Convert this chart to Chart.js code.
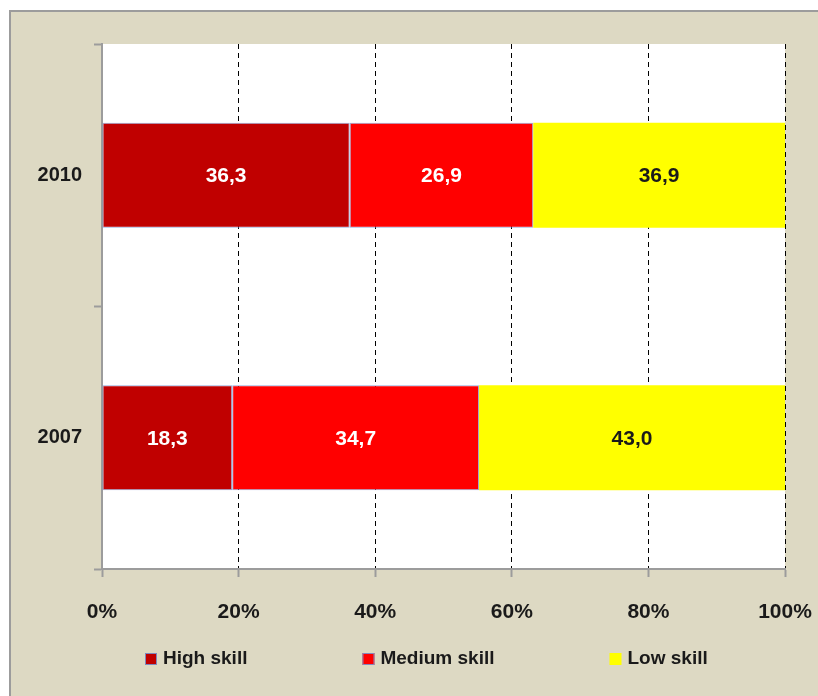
<!DOCTYPE html>
<html>
<head>
<meta charset="utf-8">
<script src="https://cdn.jsdelivr.net/npm/chart.js@4"></script>
<style>
  html, body { margin: 0; padding: 0; background: #ffffff; }
  #wrap { position: relative; width: 818px; height: 696px; overflow: hidden; }
  #panel {
    position: absolute; left: 9px; top: 10px; right: -10px; bottom: -10px;
    background: #DDD9C3; border-left: 2px solid #9C9C9C; border-top: 2px solid #9C9C9C;
  }
  #chart { position: absolute; left: 0; top: 0; }
</style>
</head>
<body>
<div id="wrap">
  <div id="panel"></div>
  <canvas id="chart" width="818" height="696"></canvas>
</div>
<script>
// years, top to bottom
const years = ['2010', '2007'];
const skillNames = ['High skill', 'Medium skill', 'Low skill'];
const highSkill = [36.3, 18.3];
const mediumSkill = [26.9, 34.7];
const lowSkill = [36.9, 43.0];
const xTicks = [0, 20, 40, 60, 80, 100];

const rawSeries = [highSkill, mediumSkill, lowSkill];
const fills = ['#C00000', '#FF0000', '#FFFF00'];
const edges = ['rgba(120,150,210,0.8)', 'rgba(120,150,210,0.8)', 'rgba(0,0,0,0)'];
const labelColors = ['#FFFFFF', '#FFFFFF', '#1A1A1A'];

// 100% stacked: share of each year's total
const totals = years.map((y, i) => rawSeries.reduce((s, arr) => s + arr[i], 0));
const datasets = rawSeries.map((arr, k) => ({
    label: skillNames[k],
    data: arr.map((v, i) => v / totals[i] * 100),
    raw: arr,
    backgroundColor: fills[k],
    borderColor: edges[k],
    borderWidth: k < 2 ? 1 : 0,
    borderSkipped: false,
    categoryPercentage: 1,
    barPercentage: 0.4
}));

const fontFamily = "'Liberation Sans', Arial, sans-serif";

const plotBackground = {
    id: 'plotBackground',
    beforeDraw(chart) {
        const a = chart.chartArea;
        const ctx = chart.ctx;
        ctx.save();
        ctx.fillStyle = '#FFFFFF';
        ctx.fillRect(a.left, a.top, a.right - a.left, a.bottom - a.top);
        ctx.restore();
    }
};

const barValues = {
    id: 'barValues',
    afterDatasetsDraw(chart) {
        const ctx = chart.ctx;
        ctx.save();
        ctx.font = 'bold 21px "Liberation Sans", Arial, sans-serif';
        ctx.textAlign = 'center';
        ctx.textBaseline = 'middle';
        chart.data.datasets.forEach((ds, k) => {
            const meta = chart.getDatasetMeta(k);
            meta.data.forEach((bar, i) => {
                const p = bar.getProps(['x', 'y', 'base'], true);
                ctx.fillStyle = labelColors[k];
                ctx.fillText(ds.raw[i].toFixed(1).replace('.', ','), (p.x + p.base) / 2, p.y + 1);
            });
        });
        ctx.restore();
    }
};

// legend row under the axis, spaced like the original
const bottomLegend = {
    id: 'bottomLegend',
    afterDraw(chart) {
        const ctx = chart.ctx;
        ctx.save();
        ctx.font = 'bold 19px "Liberation Sans", Arial, sans-serif';
        ctx.textBaseline = 'middle';
        ctx.textAlign = 'left';
        let x = 145;
        const yc = 659;
        chart.data.datasets.forEach((ds, k) => {
            ctx.fillStyle = fills[k];
            ctx.fillRect(x, yc - 6, 12, 12);
            if (k < 2) {
                ctx.strokeStyle = 'rgba(120,150,210,0.9)';
                ctx.lineWidth = 1;
                ctx.strokeRect(x + 0.5, yc - 5.5, 11, 11);
            }
            ctx.fillStyle = '#1A1A1A';
            ctx.fillText(ds.label, x + 18, yc);
            x += 18 + ctx.measureText(ds.label).width + 115;
        });
        ctx.restore();
    }
};

new Chart(document.getElementById('chart'), {
    type: 'bar',
    data: {
        labels: years,
        datasets: datasets
    },
    options: {
        indexAxis: 'y',
        responsive: false,
        animation: false,
        layout: {
            padding: { left: 0, top: 44, right: 33, bottom: 0 }
        },
        scales: {
            x: {
                stacked: true,
                min: 0,
                max: 100,
                afterFit: (scale) => {
                    scale.height = 127;
                    scale.paddingLeft = 0;
                    scale.paddingRight = 0;
                },
                afterBuildTicks: (scale) => { scale.ticks = xTicks.map(v => ({ value: v })); },
                ticks: {
                    callback: (v) => v + '%',
                    font: { family: fontFamily, size: 21, weight: 'bold' },
                    color: '#1A1A1A',
                    padding: 23,
                    maxRotation: 0
                },
                grid: {
                    color: (c) => (c.tick && c.tick.value === 0) ? 'rgba(0,0,0,0)' : '#000000',
                    lineWidth: 1,
                    tickColor: '#9C9C9C',
                    tickLength: 8,
                    tickWidth: 2
                },
                border: {
                    color: '#9C9C9C',
                    width: 2,
                    dash: [5, 4]
                }
            },
            y: {
                stacked: true,
                afterFit: (scale) => { scale.width = 102; },
                ticks: {
                    font: { family: fontFamily, size: 20, weight: 'bold' },
                    color: '#1A1A1A',
                    padding: 12
                },
                grid: {
                    drawOnChartArea: false,
                    tickColor: '#9C9C9C',
                    tickLength: 8,
                    tickWidth: 2
                },
                border: {
                    color: '#9C9C9C',
                    width: 2
                }
            }
        },
        plugins: {
            legend: { display: false },
            tooltip: { enabled: false }
        }
    },
    plugins: [plotBackground, barValues, bottomLegend]
});
</script>
</body>
</html>
